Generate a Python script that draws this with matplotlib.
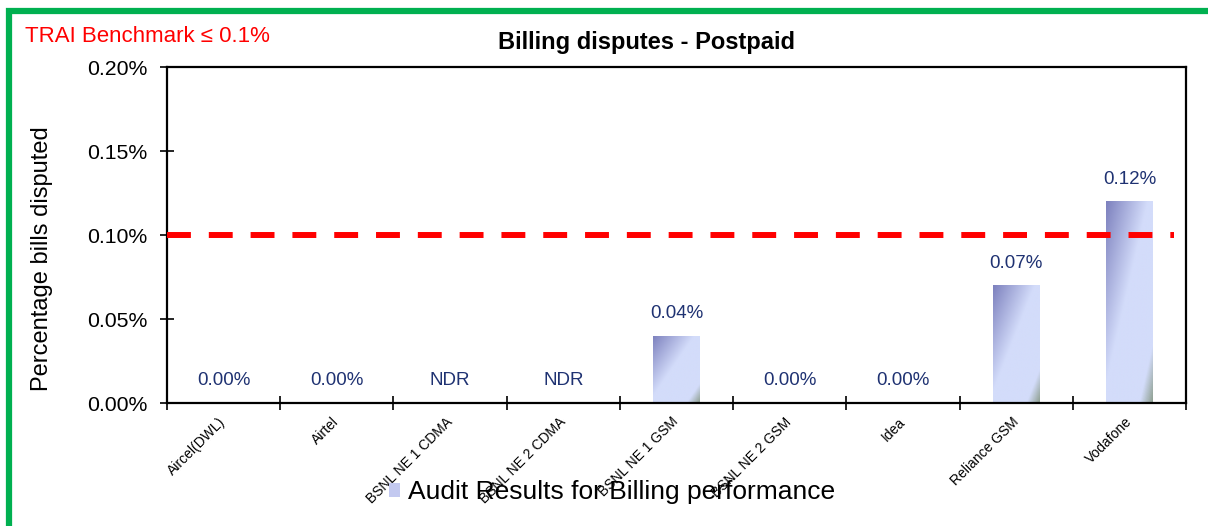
import matplotlib.pyplot as plt
import numpy as np
from matplotlib.colors import LinearSegmentedColormap
from matplotlib.patches import Rectangle, Patch

# Data (percentage of bills disputed)
operators = ['Aircel(DWL)', 'Airtel', 'BSNL NE 1 CDMA', 'BSNL NE 2 CDMA', 'BSNL NE 1 GSM',
             'BSNL NE 2 GSM', 'Idea', 'Reliance GSM', 'Vodafone']
disputed = [0.00, 0.00, 0.00, 0.00, 0.04, 0.00, 0.00, 0.07, 0.12]
bar_labels = ['0.00%', '0.00%', 'NDR', 'NDR', '0.04%', '0.00%', '0.00%', '0.07%', '0.12%']
benchmark = 0.1
y_ticks = [0.00, 0.05, 0.10, 0.15, 0.20]

plt.rcParams['font.family'] = ['Liberation Sans', 'DejaVu Sans']

fig = plt.figure(figsize=(12.08, 5.26), dpi=100)
ax = fig.add_axes([0.1382, 0.2338, 0.9818 - 0.1382, 0.8726 - 0.2338])

# gradient used to fill the bars
grad = LinearSegmentedColormap.from_list(
    'bar_grad', [(0.0, '#7d81be'), (0.45, '#d3dcfa'), (0.86, '#d3dcfa'), (1.0, '#8e9f90')])
u, v = np.meshgrid(np.linspace(0, 1, 60), np.linspace(1, 0, 200))
img = (u + (1 - v)) / 2

x = np.arange(len(operators))
bars = ax.bar(x, disputed, width=0.41, facecolor='none', edgecolor='none', zorder=2)
for rect in bars:
    if rect.get_height() <= 0:
        continue
    x0, w, h = rect.get_x(), rect.get_width(), rect.get_height()
    im = ax.imshow(img, cmap=grad, extent=(x0, x0 + w, 0, h), origin='upper',
                   aspect='auto', zorder=2, interpolation='bilinear')
    im.set_clip_path(rect)

# value labels
for xi, val, lab in zip(x, disputed, bar_labels):
    ax.annotate(lab, (xi, val), xytext=(0, 16), textcoords='offset points',
                ha='center', va='center', fontsize=13.5, color='#1f3272')

# benchmark line
ax.axhline(benchmark, xmin=0.0, xmax=0.988, color='#ff0000', linewidth=4.3,
           dashes=(4.0, 3.0), zorder=3, clip_on=False)

ax.set_xlim(-0.5, len(operators) - 0.5)
ax.set_ylim(0, 0.20)
ax.set_yticks(y_ticks)
ax.set_yticklabels(['%.2f%%' % t for t in y_ticks], fontsize=15.3)
ax.tick_params(axis='y', direction='inout', length=10, width=1.2, pad=9)

# ticks at category boundaries, labels at category centres
ax.set_xticks(np.arange(len(operators) + 1) - 0.5, minor=True)
ax.set_xticks(x)
ax.set_xticklabels(operators, rotation=45, ha='right', va='center',
                   rotation_mode='anchor', fontsize=10)
ax.tick_params(axis='x', which='major', length=0, pad=12)
ax.tick_params(axis='x', which='minor', direction='inout', length=10, width=1.2)

for s in ax.spines.values():
    s.set_linewidth(1.6)
    s.set_color('black')

ax.set_ylabel('Percentage bills disputed', fontsize=17, va='center')
ax.yaxis.set_label_coords(-0.123, 0.43)

fig.text(647 / 1208, 1 - 42 / 526, 'Billing disputes - Postpaid', ha='center', va='center',
         fontsize=17, fontweight='bold')
fig.text(25 / 1208, 1 - 37 / 526, 'TRAI Benchmark \u2264 0.1%', ha='left', va='center',
         fontsize=16, color='#ff0000')

handle = Patch(facecolor='#c3c9f0', edgecolor='none')
fig.legend([handle], ['Audit Results for Billing performance'], loc='center',
           bbox_to_anchor=(612 / 1208, 1 - 492 / 526), frameon=False, fontsize=19,
           handlelength=0.45, handleheight=0.45, handletextpad=0.3)

# green outer frame
fig.patches.append(Rectangle((0.0075, -0.5), 1.5, 0.979 + 0.5, transform=fig.transFigure,
                             fill=False, edgecolor='#00b050', linewidth=4.5, zorder=0))

plt.savefig('out.png', dpi=100)
